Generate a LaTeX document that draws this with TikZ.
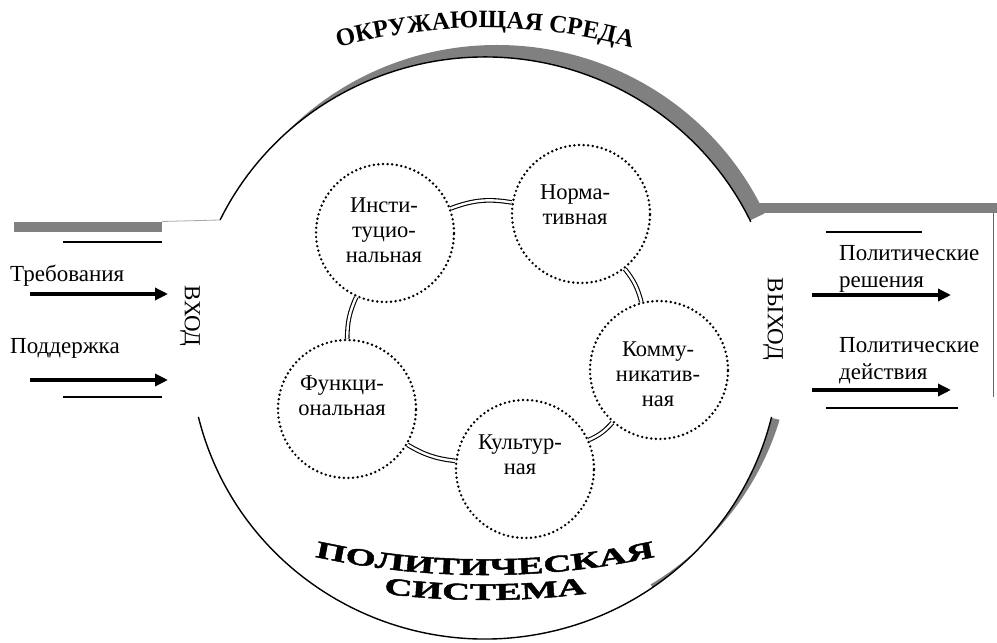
\documentclass[tikz,border=0pt]{standalone}
\usepackage{fontspec}
\setmainfont{Liberation Serif}
\newfontfamily\widefont[FakeStretch=1.62,FakeBold=2]{Liberation Serif}
\usetikzlibrary{arrows.meta,decorations.text}
\begin{document}
\begin{tikzpicture}[x=1pt,y=1pt,
  rim/.style={line width=1.4pt,black},
  shadowfill/.style={fill=black!50},
  rulebar/.style={line width=1.2pt,black},
  bigarrow/.style={line width=3.6pt,-{Triangle[length=13pt,width=12pt]}},
  dotc/.style={circle,draw,line width=2.7pt,dash pattern=on 0pt off 4.6pt,line cap=round,minimum size=138pt,inner sep=0pt},
  ctext/.style={align=center,font=\fontsize{22.5pt}{25pt}\selectfont,inner sep=0pt},
  otext/.style={align=left,font=\fontsize{23pt}{27pt}\selectfont,inner sep=0pt},
  link/.style={line width=1.1pt,double=white,double distance=2.4pt}]
\useasboundingbox (0,0) rectangle (997,643);
\fill[white] (0,0) rectangle (997,643);
\coordinate (C) at (485,295);
\coordinate (Cs) at (497,307);
% shadow crescents
\begin{scope}
  \clip (485,295) -- (61,719) -- (485,895) -- (909,719) -- (1025.6,555.2) -- cycle;
  \fill[shadowfill,even odd rule] (Cs) ellipse[x radius=295pt,y radius=291pt] (C) ellipse[x radius=295pt,y radius=291pt];
\end{scope}
\begin{scope}
  \clip (485,295) -- (1067.9,152.9) -- (976.5,-49.1) -- (829.1,-196.5) -- cycle;
  \fill[shadowfill,even odd rule] (Cs) ellipse[x radius=295pt,y radius=291pt] (C) ellipse[x radius=295pt,y radius=291pt];
\end{scope}
% big circle arcs
\draw[rim] (C) ++(153.9:295pt and 291pt) coordinate (ul) arc[start angle=153.9,end angle=25.7,x radius=295pt,y radius=291pt] coordinate (ur);
\draw[rim] (C) ++(193.7:295pt and 291pt) coordinate (ll) arc[start angle=193.7,end angle=346.3,x radius=295pt,y radius=291pt] coordinate (lr);
% bands
\fill[shadowfill] (14,411) rectangle (162,421);
\coordinate (lb) at (162,421.5);
\draw[black!35,line width=0.8pt] (lb) -- (ul);
\fill[shadowfill] (753,430) rectangle (997,440);
\coordinate (rbt) at (993,430);
\coordinate (rbb) at (993,246);
\draw[black!60,line width=0.9pt] (rbt) -- (rbb);
% rules
\coordinate (r1a) at (63,401); \coordinate (r1b) at (162,401);
\coordinate (r2a) at (63,246); \coordinate (r2b) at (162,246);
\coordinate (r3a) at (826,411); \coordinate (r3b) at (922,411);
\coordinate (r4a) at (826,235); \coordinate (r4b) at (958,235);
\draw[rulebar] (r1a) -- (r1b);
\draw[rulebar] (r2a) -- (r2b);
\draw[rulebar] (r3a) -- (r3b);
\draw[rulebar] (r4a) -- (r4b);
% arrows
\coordinate (a1s) at (30,349); \coordinate (a1e) at (168,349);
\coordinate (a2s) at (30,263); \coordinate (a2e) at (168,263);
\coordinate (a3s) at (812,348); \coordinate (a3e) at (951,348);
\coordinate (a4s) at (812,253); \coordinate (a4e) at (951,253);
\draw[bigarrow] (a1s) -- (a1e);
\draw[bigarrow] (a2s) -- (a2e);
\draw[bigarrow] (a3s) -- (a3e);
\draw[bigarrow] (a4s) -- (a4e);
% outer texts
\node[otext,anchor=base west] (treb) at (10,361) {Требования};
\node[otext,anchor=base west] (podd) at (10,289) {Поддержка};
\node[otext,rotate=-90] (vhod) at (190,327) {ВХОД};
\node[otext,rotate=-90] (vyhod) at (773,324) {ВЫХОД};
\node[otext,anchor=north west] (resh) at (839,398) {Политические\\решения};
\node[otext,anchor=north west] (deys) at (839,306) {Политические\\действия};
% inner circles
\node[dotc] (inst) at (385,410) {};
\node[dotc] (norm) at (581,429) {};
\node[dotc] (komm) at (659,273) {};
\node[dotc] (kult) at (525,174) {};
\node[dotc] (func) at (347,234) {};
\node[ctext] (instt) at (384,413) {Инсти-\\туцио-\\нальная};
\node[ctext] (normt) at (575,438) {Норма-\\тивная};
\node[ctext] (kommt) at (658,269) {Комму-\\никатив-\\ная};
\node[ctext] (kultt) at (520,188) {Культур-\\ная};
\node[ctext] (funct) at (342,247) {Функци-\\ональная};
% links
\draw[link] (inst) to[bend left=15] (norm);
\draw[link] (norm) to[bend left=12] (komm);
\draw[link] (komm) to[bend left=12] (kult);
\draw[link] (kult) to[bend left=12] (func);
\draw[link] (func) to[bend left=12] (inst);
% titles
\path[decorate,decoration={text along path,text align=center,
  text={|\fontsize{25pt}{25pt}\selectfont\bfseries|ОКРУЖАЮЩАЯ СРЕДА}}]
  (485,55) ++(114:560pt) arc[start angle=114,end angle=66,radius=560pt];
\path[decorate,decoration={text along path,text align=center,
  text={|\widefont\bfseries\fontsize{24pt}{24pt}\selectfont|ПОЛИТИЧЕСКАЯ}}]
  (485,868) ++(250:800pt) arc[start angle=250,end angle=290,radius=800pt];
\path[decorate,decoration={text along path,text align=center,
  text={|\widefont\bfseries\fontsize{24pt}{24pt}\selectfont|СИСТЕМА}}]
  (485,843) ++(255:800pt) arc[start angle=255,end angle=285,radius=800pt];
\end{tikzpicture}
\end{document}
